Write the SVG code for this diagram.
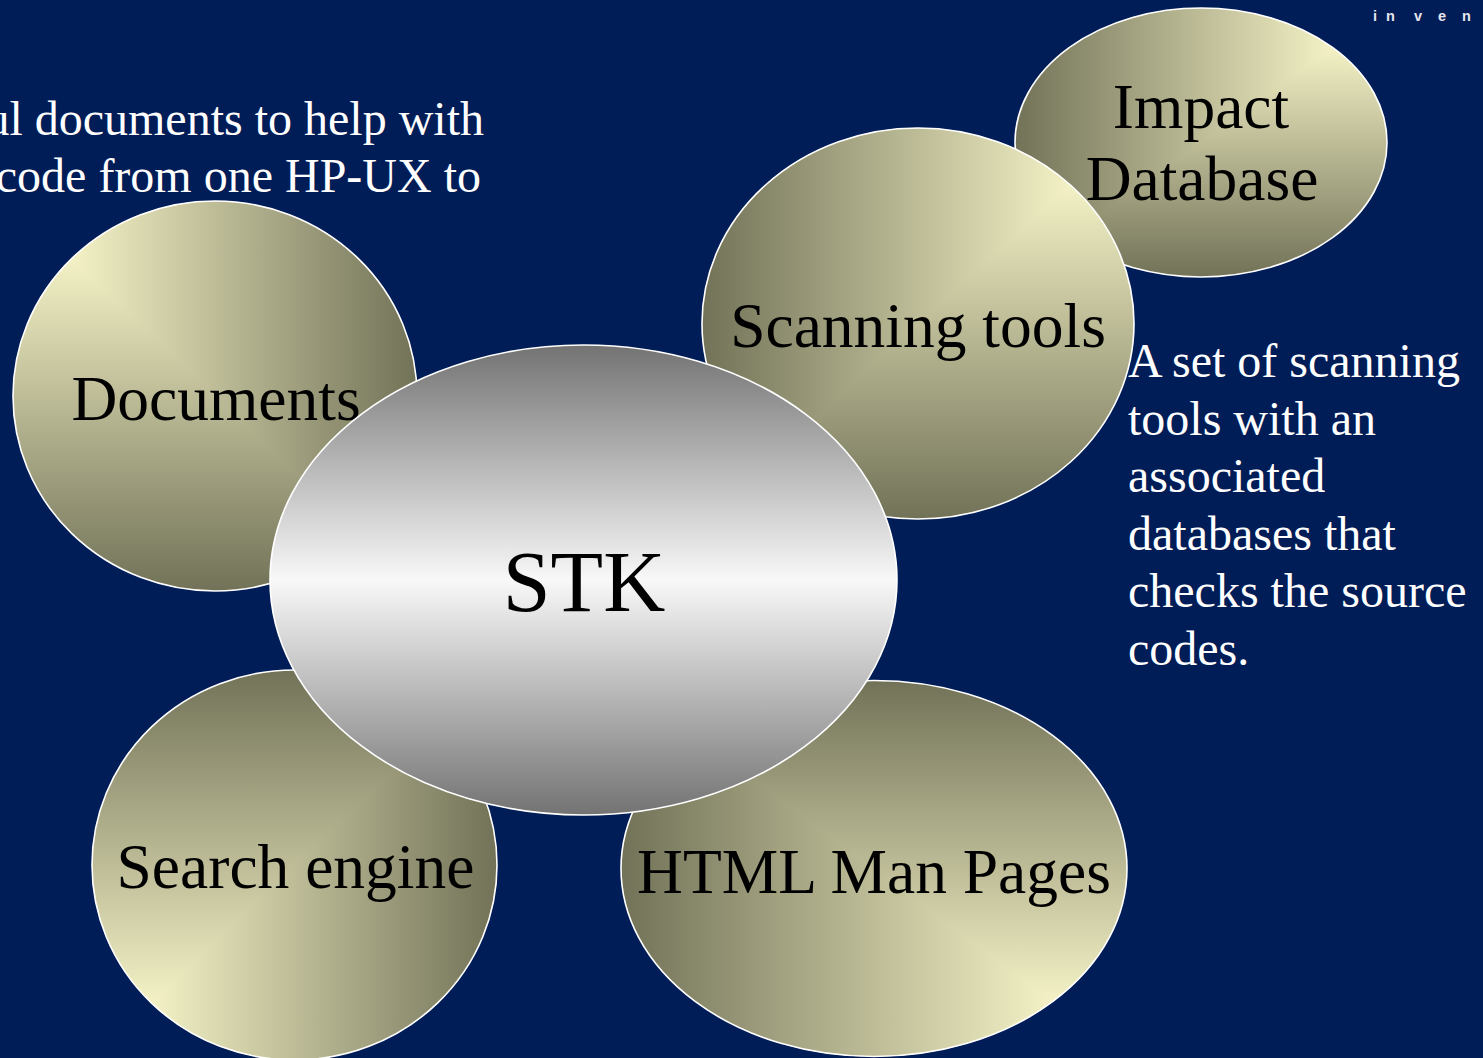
<svg xmlns="http://www.w3.org/2000/svg" width="1483" height="1058" viewBox="0 0 1483 1058">
  <style>
    .outline { fill: none; stroke: #ffffff; stroke-width: 1.6; }
    .label { font-family: 'Liberation Serif', 'Times New Roman', serif; fill: #000000; text-anchor: middle; font-size: 63.5px; }
    .body { font-family: 'Liberation Serif', 'Times New Roman', serif; fill: #ffffff; font-size: 48px; }
    .logo { font-family: 'Liberation Sans', Arial, sans-serif; font-weight: bold; fill: #e6e6ee; font-size: 14.5px; }
  </style>
  <defs>
    <linearGradient id="hL" x1="0" y1="0" x2="1" y2="0"><stop offset="0" stop-color="#faf8cc"/><stop offset="0.12" stop-color="#f7f5c8"/><stop offset="1" stop-color="#727258"/></linearGradient>
    <linearGradient id="hR" x1="1" y1="0" x2="0" y2="0"><stop offset="0" stop-color="#faf8cc"/><stop offset="0.12" stop-color="#f7f5c8"/><stop offset="1" stop-color="#727258"/></linearGradient>
    <linearGradient id="vT" x1="0" y1="0" x2="0" y2="1"><stop offset="0" stop-color="#faf8cc"/><stop offset="0.12" stop-color="#f7f5c8"/><stop offset="1" stop-color="#727258"/></linearGradient>
    <linearGradient id="vB" x1="0" y1="1" x2="0" y2="0"><stop offset="0" stop-color="#faf8cc"/><stop offset="0.12" stop-color="#f7f5c8"/><stop offset="1" stop-color="#727258"/></linearGradient>
    <linearGradient id="gray" x1="0" y1="0" x2="0" y2="1">
      <stop offset="0" stop-color="#737373"/>
      <stop offset="0.5" stop-color="#f8f8f8"/>
      <stop offset="1" stop-color="#737373"/>
    </linearGradient>
    <clipPath id="c-impact"><ellipse cx="1201" cy="142.5" rx="186" ry="134.5"/></clipPath>
    <clipPath id="c-scan"><ellipse cx="918" cy="323.5" rx="216" ry="195.5"/></clipPath>
    <clipPath id="c-doc"><ellipse cx="215" cy="396" rx="202" ry="195"/></clipPath>
    <clipPath id="c-search"><ellipse cx="294.5" cy="865" rx="202.5" ry="195"/></clipPath>
    <clipPath id="c-html"><ellipse cx="874" cy="868.5" rx="253" ry="188"/></clipPath>
  </defs>

  <rect x="0" y="0" width="1483" height="1058" fill="#011d58"/>

  <g id="connectors"/>

  <g id="node-impact-database">
    <g clip-path="url(#c-impact)">
      <rect x="1015" y="8" width="372" height="269" fill="url(#vT)"/>
      <polygon points="1387,8 1015,8 1015,277" fill="url(#hR)"/>
    </g>
    <ellipse class="outline" cx="1201" cy="142.5" rx="186" ry="134.5"/>
    <text class="label" x="1201" y="128">Impact</text>
    <text class="label" x="1202" y="200">Database</text>
  </g>

  <g id="node-scanning-tools">
    <g clip-path="url(#c-scan)">
      <rect x="702" y="128" width="432" height="391" fill="url(#vT)"/>
      <polygon points="1134,128 702,128 702,519" fill="url(#hR)"/>
    </g>
    <ellipse class="outline" cx="918" cy="323.5" rx="216" ry="195.5"/>
    <text class="label" x="918" y="347">Scanning tools</text>
  </g>

  <g id="node-documents">
    <g clip-path="url(#c-doc)">
      <rect x="13" y="201" width="404" height="390" fill="url(#vT)"/>
      <polygon points="13,201 417,201 417,591" fill="url(#hL)"/>
    </g>
    <ellipse class="outline" cx="215" cy="396" rx="202" ry="195"/>
    <text class="label" x="216" y="420">Documents</text>
  </g>

  <g id="node-search-engine">
    <g clip-path="url(#c-search)">
      <rect x="92" y="670" width="405" height="390" fill="url(#vB)"/>
      <polygon points="92,1060 497,1060 497,670" fill="url(#hL)"/>
    </g>
    <ellipse class="outline" cx="294.5" cy="865" rx="202.5" ry="195"/>
    <text class="label" x="295.5" y="888">Search engine</text>
  </g>

  <g id="node-html-man-pages">
    <g clip-path="url(#c-html)">
      <rect x="621" y="680.5" width="506" height="376" fill="url(#vB)"/>
      <polygon points="1127,1056.5 621,1056.5 621,680.5" fill="url(#hR)"/>
    </g>
    <ellipse class="outline" cx="874" cy="868.5" rx="253" ry="188"/>
    <text class="label" x="874" y="893">HTML Man Pages</text>
  </g>

  <g id="node-stk">
    <ellipse cx="583.5" cy="580" rx="313.5" ry="235" fill="url(#gray)"/>
    <ellipse class="outline" cx="583.5" cy="580" rx="313.5" ry="235"/>
    <text class="label" x="584" y="611" style="font-size:86px">STK</text>
  </g>

  <g id="text-top-left">
    <text class="body" x="484" y="135" text-anchor="end">ul documents to help with</text>
    <text class="body" x="481" y="192" text-anchor="end">code from one HP-UX to</text>
  </g>

  <g id="text-right">
    <text class="body" x="1128" y="377">A set of scanning</text>
    <text class="body" x="1128" y="434.5">tools with an</text>
    <text class="body" x="1128" y="492">associated</text>
    <text class="body" x="1128" y="549.5">databases that</text>
    <text class="body" x="1128" y="607">checks the source</text>
    <text class="body" x="1128" y="664.5">codes.</text>
  </g>

  <text class="logo" x="1373 1386 1414 1438 1462" y="21">inven</text>
</svg>
